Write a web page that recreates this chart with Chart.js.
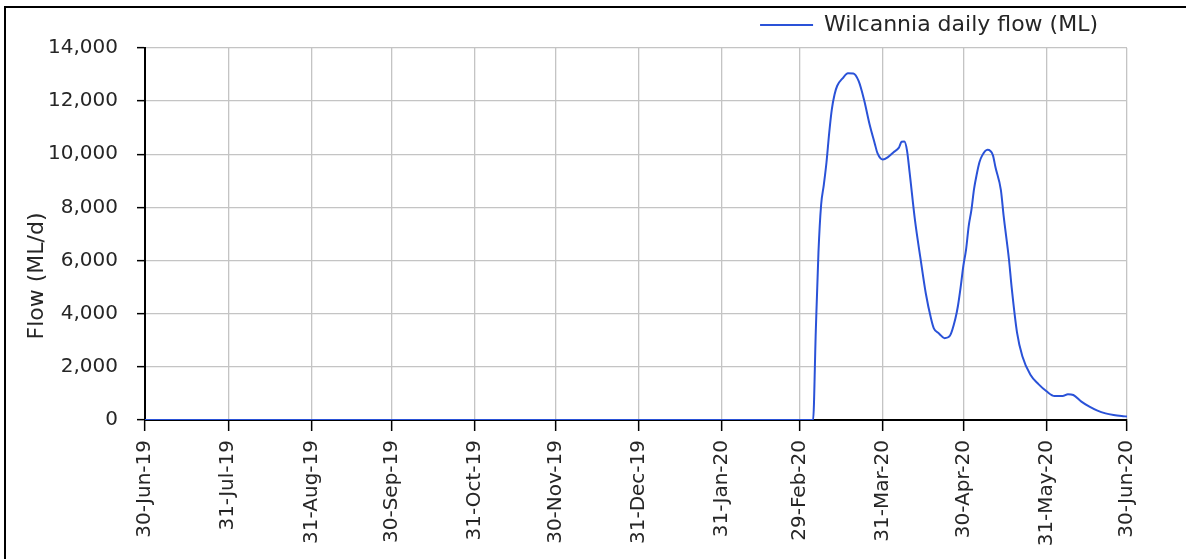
<!DOCTYPE html>
<html>
<head>
<meta charset="utf-8">
<script src="https://cdn.jsdelivr.net/npm/chart.js@4/dist/chart.umd.min.js"></script>
<style>
  body { margin: 0; background: #fff; overflow: hidden; }
  #frame { position: absolute; left: 4px; top: 6px; width: 1400px; height: 800px; border: 2px solid #000; background: #fff; }
  #chart { position: absolute; left: 0; top: 0; }
</style>
</head>
<body>
<div id="frame"></div>
<canvas id="chart" width="1186" height="559"></canvas>
<script>
// fechas de los ticks del eje x (fin de mes) y sus etiquetas
const tickDates = ['2019-06-30', '2019-07-31', '2019-08-31', '2019-09-30', '2019-10-31', '2019-11-30',
  '2019-12-31', '2020-01-31', '2020-02-29', '2020-03-31', '2020-04-30', '2020-05-31', '2020-06-30'];
const tickLabels = ['30-Jun-19', '31-Jul-19', '31-Aug-19', '30-Sep-19', '31-Oct-19', '30-Nov-19',
  '31-Dec-19', '31-Jan-20', '29-Feb-20', '31-Mar-20', '30-Apr-20', '31-May-20', '30-Jun-20'];

// caudal diario
const flowDates = ['2019-06-30', '2020-03-05', '2020-03-06', '2020-03-07', '2020-03-08', '2020-03-09',
  '2020-03-10', '2020-03-11', '2020-03-12', '2020-03-13', '2020-03-14', '2020-03-16', '2020-03-18',
  '2020-03-20', '2020-03-22', '2020-03-24', '2020-03-26', '2020-03-28', '2020-03-29', '2020-03-31',
  '2020-04-02', '2020-04-04', '2020-04-06', '2020-04-07', '2020-04-08', '2020-04-09', '2020-04-10',
  '2020-04-12', '2020-04-14', '2020-04-16', '2020-04-18', '2020-04-19', '2020-04-21', '2020-04-23',
  '2020-04-25', '2020-04-27', '2020-04-28', '2020-04-29', '2020-04-30', '2020-05-01', '2020-05-02',
  '2020-05-03', '2020-05-04', '2020-05-05', '2020-05-06', '2020-05-07', '2020-05-09', '2020-05-11',
  '2020-05-12', '2020-05-14', '2020-05-15', '2020-05-17', '2020-05-18', '2020-05-20', '2020-05-22',
  '2020-05-25', '2020-05-28', '2020-05-31', '2020-06-03', '2020-06-06', '2020-06-08', '2020-06-10',
  '2020-06-13', '2020-06-16', '2020-06-19', '2020-06-22', '2020-06-25', '2020-06-28', '2020-06-30'];
const flowValues = [0, 0, 3300, 6300, 8100, 8850,
  9700, 10800, 11700, 12250, 12580, 12860, 13050,
  13040, 12750, 12050, 11150, 10400, 10040, 9800,
  9900, 10080, 10250, 10470, 10480, 10150, 9300,
  7500, 6100, 4770, 3800, 3450, 3250, 3080,
  3170, 3800, 4300, 5000, 5800, 6400, 7300,
  7900, 8700, 9250, 9700, 9950, 10170, 9970,
  9500, 8650, 7700, 6050, 5000, 3300, 2400,
  1700, 1350, 1080, 900, 900, 970, 940,
  690, 500, 350, 250, 190, 150, 130];

const seriesName = 'Wilcannia daily flow (ML)';
const yTitle = 'Flow (ML/d)';

// dias desde el 30-Jun-19
function diaDe(fecha) {
    const [a, m, d] = fecha.split('-').map(Number);
    return (Date.UTC(a, m - 1, d) - Date.UTC(2019, 5, 30)) / 86400000;
}
const tickDays = tickDates.map(diaDe);
const puntos = flowDates.map((f, i) => ({ x: diaDe(f), y: flowValues[i] }));

const colorTexto = '#262626';
const fuente = 'DejaVu Sans';

// la leyenda ocupa justo el alto hasta el area del grafico
const alturaLeyenda = {
    id: 'alturaLeyenda',
    beforeInit(chart) {
        const fit = chart.legend.fit;
        chart.legend.fit = function () {
            fit.call(this);
            this.height = 63;
        };
    }
};

new Chart(document.getElementById('chart'), {
    type: 'line',
    data: {
        datasets: [{
            label: seriesName,
            data: puntos,
            borderColor: '#2a52d8',
            backgroundColor: '#2a52d8',
            borderWidth: 2,
            pointRadius: 0,
            cubicInterpolationMode: 'monotone',
            fill: false
        }]
    },
    options: {
        responsive: false,
        animation: false,
        devicePixelRatio: 1,
        layout: { padding: { left: 6, top: -15, right: 59, bottom: 0 } },
        plugins: {
            tooltip: { enabled: false },
            legend: {
                position: 'top',
                align: 'end',
                labels: {
                    usePointStyle: true,
                    pointStyle: 'line',
                    pointStyleWidth: 53,
                    padding: 29,
                    color: colorTexto,
                    font: { family: fuente, size: 22 }
                }
            }
        },
        scales: {
            x: {
                type: 'linear',
                min: 0,
                max: 366,
                afterBuildTicks(scale) {
                    scale.ticks = tickDays.map(v => ({ value: v }));
                },
                afterFit(scale) { scale.height = 139; },
                ticks: {
                    autoSkip: false,
                    minRotation: 90,
                    maxRotation: 90,
                    padding: 9,
                    color: colorTexto,
                    font: { family: fuente, size: 20 },
                    callback: (v) => tickLabels[tickDays.indexOf(v)]
                },
                grid: { color: '#c4c4c4', lineWidth: 1.3, tickColor: '#000', tickLength: 11, tickWidth: 1.5 },
                border: { color: '#000', width: 2 }
            },
            y: {
                min: 0,
                max: 14000,
                afterFit(scale) { scale.width = 139; },
                ticks: {
                    stepSize: 2000,
                    padding: 19,
                    color: colorTexto,
                    font: { family: fuente, size: 20 },
                    callback: (v) => v.toLocaleString('en-US')
                },
                title: {
                    display: true,
                    text: yTitle + '            ',
                    color: colorTexto,
                    font: { family: fuente, size: 22 },
                    padding: { top: 18 }
                },
                grid: { color: '#c4c4c4', lineWidth: 1.3, tickColor: '#000', tickLength: 8, tickWidth: 1.5 },
                border: { color: '#000', width: 2 }
            }
        }
    },
    plugins: [alturaLeyenda]
});
</script>
</body>
</html>
